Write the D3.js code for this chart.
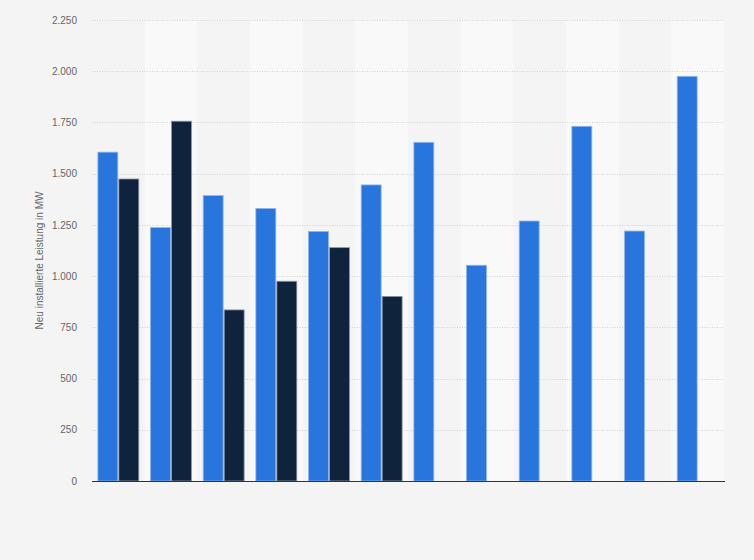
<!DOCTYPE html>
<html>
<head>
<meta charset="utf-8">
<script src="https://cdn.jsdelivr.net/npm/d3@7"></script>
<style>
  body { margin: 0; background: #f4f4f4; }
  svg { display: block; font-family: "Liberation Sans", Arial, sans-serif; }
</style>
</head>
<body>
<svg id="chart"></svg>
<script>
// one category per bar group, no labels shown on the x-axis
const categories = ['1', '2', '3', '4', '5', '6', '7', '8', '9', '10', '11', '12'];
const seriesNames = ['a', 'b'];
const seriesA = [1605, 1237, 1393, 1330, 1218, 1445, 1653, 1053, 1269, 1731, 1220, 1975];
const seriesB = [1474, 1756, 835, 975, 1139, 901, null, null, null, null, null, null];
const yTicks = [0, 250, 500, 750, 1000, 1250, 1500, 1750, 2000, 2250];
const yLabel = 'Neu installierte Leistung in MW';

const W = 754, H = 560;
const margin = {top: 20, right: 30, bottom: 79, left: 92};
const width = W - margin.left - margin.right;
const height = H - margin.top - margin.bottom;

const svg = d3.select('#chart')
  .attr('width', W)
  .attr('height', H);

svg.append('rect')
  .attr('width', W)
  .attr('height', H)
  .attr('fill', '#f4f4f4');

const g = svg.append('g')
  .attr('transform', `translate(${margin.left}, ${margin.top})`);

const x = d3.scaleBand()
  .domain(categories)
  .range([0, width])
  .padding(0);

const xInner = d3.scaleBand()
  .domain(seriesNames)
  .range([0, x.bandwidth()])
  .paddingInner(0.05)
  .paddingOuter(0.28);

const y = d3.scaleLinear()
  .domain([0, 2250])
  .range([height, 0]);

// alternating column shading
g.selectAll('.band')
  .data(categories.filter((d, i) => i % 2 == 1))
  .join('rect')
  .attr('x', d => x(d))
  .attr('y', 0)
  .attr('width', x.bandwidth())
  .attr('height', height)
  .attr('fill', '#f9f9f9');

// gridlines
g.selectAll('.grid')
  .data(yTicks.filter(d => d > 0))
  .join('line')
  .attr('x1', 0)
  .attr('x2', width)
  .attr('y1', d => Math.round(y(d)) + 0.5)
  .attr('y2', d => Math.round(y(d)) + 0.5)
  .attr('stroke', '#d2d2d2')
  .attr('stroke-dasharray', '1,1.5');

const yAxis = g.append('g')
  .call(d3.axisLeft(y).tickValues(yTicks).tickSize(0).tickPadding(15)
    .tickFormat(d => d3.format(',')(d).replace(/,/g, '.')));
yAxis.select('.domain').remove();
yAxis.selectAll('text')
  .attr('fill', '#666')
  .style('font-size', '10px');

const rows = categories.map((c, i) => ({cat: c, a: seriesA[i], b: seriesB[i]}));

g.selectAll('.barA')
  .data(rows)
  .join('rect')
  .attr('x', d => x(d.cat) + xInner('a'))
  .attr('y', d => y(d.a))
  .attr('width', xInner.bandwidth())
  .attr('height', d => height - y(d.a))
  .attr('fill', '#2876dd')
  .attr('stroke', '#8fb5ec')
  .attr('stroke-width', 0.8);

g.selectAll('.barB')
  .data(rows.filter(d => d.b != null))
  .join('rect')
  .attr('x', d => x(d.cat) + xInner('b'))
  .attr('y', d => y(d.b))
  .attr('width', xInner.bandwidth())
  .attr('height', d => height - y(d.b))
  .attr('fill', '#0f243c')
  .attr('stroke', '#8b97a6')
  .attr('stroke-width', 0.8);

// baseline
g.append('line')
  .attr('x1', 0)
  .attr('x2', width + 1)
  .attr('y1', height + 0.5)
  .attr('y2', height + 0.5)
  .attr('stroke', '#333')
  .attr('stroke-width', 1.2);

svg.append('text')
  .attr('transform', `translate(43, ${margin.top + height / 2 + 10}) rotate(-90)`)
  .attr('text-anchor', 'middle')
  .attr('fill', '#666')
  .style('font-size', '10px')
  .text(yLabel);
</script>
</body>
</html>
